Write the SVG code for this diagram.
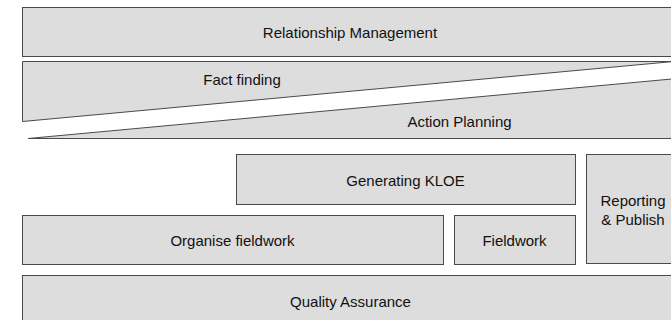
<svg xmlns="http://www.w3.org/2000/svg" width="671" height="320" viewBox="0 0 671 320">
<style>
.box{fill:#dddddd;stroke:#4a4a4a;stroke-width:1}
.lbl{font-family:"Liberation Sans",Arial,sans-serif;font-size:15px;fill:#111;text-anchor:middle}
</style>
<rect width="671" height="320" fill="#ffffff"/>
<g id="relationship-management">
<rect class="box" x="22.5" y="7.5" width="660" height="49"/>
<text class="lbl" x="350" y="38">Relationship Management</text>
</g>
<g id="fact-finding">
<polygon class="box" points="22.5,61.5 676,61.5 676,61.3 22.5,121.5"/>
<text class="lbl" x="242" y="85">Fact finding</text>
</g>
<g id="action-planning">
<polygon class="box" points="28,138.5 676,138.5 676,78.6"/>
<text class="lbl" x="459.5" y="127">Action Planning</text>
</g>
<g id="generating-kloe">
<rect class="box" x="236.5" y="154.5" width="339" height="50"/>
<text class="lbl" x="405.5" y="186">Generating KLOE</text>
</g>
<g id="reporting-publish">
<rect class="box" x="586.5" y="154.5" width="100" height="109"/>
<text class="lbl" x="633" y="206">Reporting</text>
<text class="lbl" x="633" y="225">&amp; Publish</text>
</g>
<g id="organise-fieldwork">
<rect class="box" x="22.5" y="215.5" width="421" height="49"/>
<text class="lbl" x="232.5" y="246">Organise fieldwork</text>
</g>
<g id="fieldwork">
<rect class="box" x="454.5" y="215.5" width="121" height="49"/>
<text class="lbl" x="514.5" y="246">Fieldwork</text>
</g>
<g id="quality-assurance">
<rect class="box" x="22.5" y="275.5" width="660" height="60"/>
<text class="lbl" x="350.5" y="307">Quality Assurance</text>
</g>
<g id="connectors"></g>
</svg>
